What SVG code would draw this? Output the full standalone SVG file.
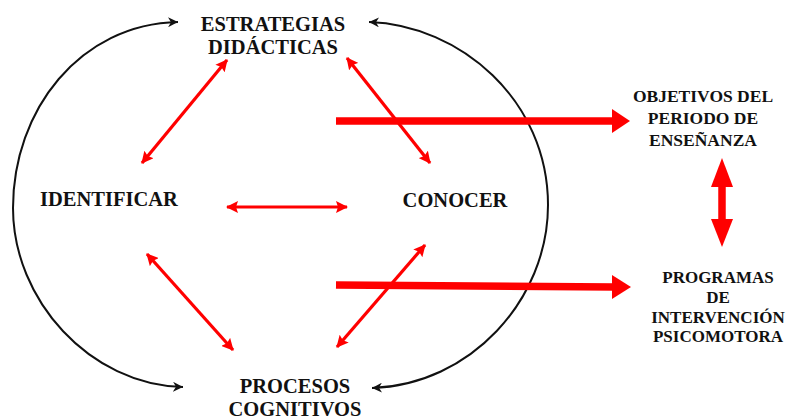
<svg xmlns="http://www.w3.org/2000/svg" width="788" height="419" viewBox="0 0 788 419">
<style>
.t{font-family:"Liberation Serif","Times New Roman",serif;font-weight:bold;fill:#111;text-anchor:middle}
.big{font-size:20.5px}
.sm{font-size:17.5px}
.sm2{font-size:17px}
.blk{fill:none;stroke:#111;stroke-width:2}
.red{fill:none;stroke:#f00;stroke-width:3.2}
.thick{fill:none;stroke:#f00;stroke-width:7.5}
</style>
<defs>
<marker id="bh" markerUnits="userSpaceOnUse" markerWidth="12" markerHeight="10" refX="10" refY="5" orient="auto-start-reverse" viewBox="0 0 12 10">
<path d="M0,0 L10,5 L0,10 L3,5 Z" fill="#111"/>
</marker>
<marker id="rh" markerUnits="userSpaceOnUse" markerWidth="12" markerHeight="12" refX="11" refY="6" orient="auto-start-reverse" viewBox="0 0 12 12">
<path d="M0,0 L12,6 L0,12 L2,6 Z" fill="#f00"/>
</marker>
</defs>
<g id="connectors">
<path class="blk" d="M13,208 C13,110 80,24 178,22" marker-end="url(#bh)"/>
<path class="blk" d="M13,208 C13,300 90,385 183,387" marker-end="url(#bh)"/>
<path class="blk" d="M548,205 C548,100 460,25 369,22" marker-end="url(#bh)"/>
<path class="blk" d="M548,205 C548,300 470,385 372,388" marker-end="url(#bh)"/>
<line class="red" x1="227" y1="60" x2="142" y2="163" marker-start="url(#rh)" marker-end="url(#rh)"/>
<line class="red" x1="347" y1="58" x2="430" y2="163" marker-start="url(#rh)" marker-end="url(#rh)"/>
<line class="red" x1="227" y1="207" x2="347" y2="207" marker-start="url(#rh)" marker-end="url(#rh)"/>
<line class="red" x1="147" y1="254" x2="233" y2="350" marker-start="url(#rh)" marker-end="url(#rh)"/>
<line class="red" x1="425" y1="245" x2="337" y2="347" marker-start="url(#rh)" marker-end="url(#rh)"/>
<line class="thick" x1="336" y1="121" x2="614" y2="121"/>
<polygon points="612,109 630,121 612,133" fill="#f00"/>
<line class="thick" x1="336" y1="285" x2="614" y2="287"/>
<polygon points="612,275 631,287 612,299" fill="#f00"/>
<line class="thick" x1="722" y1="185" x2="722" y2="222"/>
<polygon points="711,187 722,158 733,187" fill="#f00"/>
<polygon points="711,219 722,247 733,219" fill="#f00"/>
</g>
<g id="estrategias">
<text class="t big" x="273" y="31">ESTRATEGIAS</text>
<text class="t big" x="273" y="54">DIDÁCTICAS</text>
</g>
<g id="identificar">
<text class="t big" x="109" y="206">IDENTIFICAR</text>
</g>
<g id="conocer">
<text class="t big" x="455" y="207">CONOCER</text>
</g>
<g id="procesos">
<text class="t big" x="295" y="393">PROCESOS</text>
<text class="t big" x="295" y="416">COGNITIVOS</text>
</g>
<g id="objetivos">
<text class="t sm" x="703" y="102">OBJETIVOS DEL</text>
<text class="t sm" x="703" y="124">PERIODO DE</text>
<text class="t sm" x="703" y="146">ENSEÑANZA</text>
</g>
<g id="programas">
<text class="t sm2" x="718" y="283">PROGRAMAS</text>
<text class="t sm2" x="718" y="303">DE</text>
<text class="t sm2" x="718" y="323">INTERVENCIÓN</text>
<text class="t sm2" x="718" y="342">PSICOMOTORA</text>
</g>
</svg>
